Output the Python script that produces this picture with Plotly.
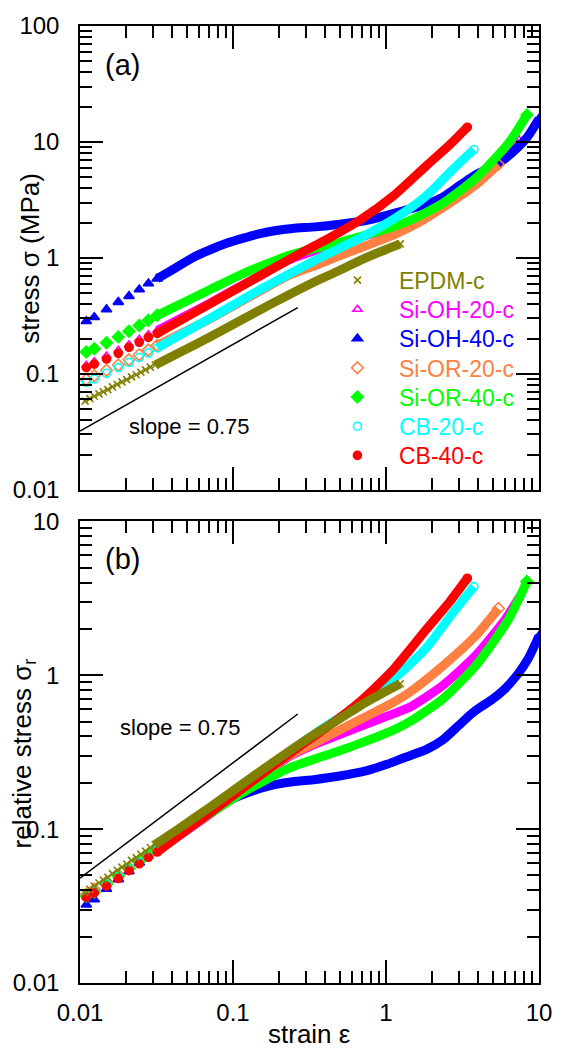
import plotly.graph_objects as go

# ---------------- data ----------------
SERIES = ["EPDM-c", "Si-OH-20-c", "Si-OH-40-c", "Si-OR-20-c", "Si-OR-40-c", "CB-20-c", "CB-40-c"]
COLORS = ["#808000", "#FF00FF", "#0000FF", "#FF8040", "#00FF00", "#00FFFF", "#FF0000"]
SYMBOLS = ["x-thin", "triangle-up-open", "triangle-up", "diamond-open", "diamond", "circle-open", "circle"]
MSIZE = [7, 8, 9, 9, 9, 8, 8]

# normalisation stress sigma0 (MPa): relative stress = stress / sigma0
SIGMA0 = [1.50, 3.25, 8.8, 2.36, 4.21, 2.28, 3.14]

# low-strain sampled points (drawn as separate markers)
LOW_STRAIN = [0.0110, 0.0124, 0.0149, 0.0178, 0.0209, 0.0244, 0.0280, 0.0320]
EPDM_LOW_STRAIN = [0.0108, 0.0116, 0.0124, 0.0133, 0.0142, 0.0152, 0.0163, 0.0175,
                   0.0188, 0.0202, 0.0217, 0.0233, 0.0250, 0.0268, 0.0288, 0.0310]

epdm_low = [0.058, 0.061, 0.064, 0.067, 0.070, 0.073, 0.077, 0.081,
            0.085, 0.089, 0.094, 0.098, 0.103, 0.108, 0.114, 0.119]
sioh20_low = [0.118, 0.127, 0.142, 0.159, 0.178, 0.198, 0.217, 0.236]
sioh40_low = [0.284, 0.307, 0.359, 0.415, 0.467, 0.533, 0.600, 0.662]
sior20_low = [0.089, 0.096, 0.107, 0.119, 0.132, 0.146, 0.160, 0.176]
sior40_low = [0.154, 0.164, 0.185, 0.208, 0.233, 0.261, 0.290, 0.319]
cb20_low = [0.0843, 0.090, 0.101, 0.113, 0.125, 0.138, 0.151, 0.167]
cb40_low = [0.113, 0.121, 0.134, 0.150, 0.169, 0.187, 0.206, 0.223]

# dense part of each curve (continuous band)
epdm_x = [0.0438, 0.0716, 0.150, 0.345, 0.487, 0.689, 1.00, 1.24]
epdm_y = [0.150, 0.210, 0.355, 0.624, 0.77, 0.96, 1.18, 1.32]

sioh20_x = [0.0716, 0.106, 0.150, 0.233, 0.345, 0.487, 1.125, 1.44, 2.35, 3.85, 6.0, 7.41]
sioh20_y = [0.41, 0.546, 0.70, 0.965, 1.16, 1.33, 1.83, 2.02, 2.79, 4.36, 7.48, 10.4]

sioh40_x = [0.0396, 0.056, 0.0716, 0.0917, 0.117, 0.150, 0.191, 0.245, 0.345, 0.487, 0.75,
            1.0, 1.30, 1.84, 2.35, 3.01, 3.67, 4.25, 4.92, 6.0, 7.29, 8.47, 10.0]
sioh40_y = [0.78, 1.02, 1.18, 1.34, 1.48, 1.62, 1.72, 1.79, 1.85, 1.94, 2.11,
            2.31, 2.55, 2.90, 3.34, 4.18, 5.00, 5.55, 6.10, 7.19, 8.98, 11.2, 15.8]

sior20_x = [0.0716, 0.106, 0.233, 0.345, 0.487, 1.125, 1.44, 2.35, 3.85, 5.43]
sior20_y = [0.30, 0.40, 0.71, 0.86, 1.03, 1.58, 1.84, 2.71, 4.25, 6.40]

sior40_x = [0.0716, 0.106, 0.150, 0.233, 0.487, 0.689, 1.125, 1.44, 2.35, 3.85, 6.30, 8.34]
sior40_y = [0.536, 0.69, 0.84, 1.05, 1.35, 1.53, 1.86, 2.11, 2.95, 4.84, 9.68, 17.1]

cb20_x = [0.0716, 0.150, 0.345, 0.689, 1.18, 1.84, 2.73, 3.76]
cb20_y = [0.303, 0.530, 0.955, 1.50, 2.25, 3.44, 5.79, 8.59]

cb40_x = [0.0716, 0.150, 0.257, 0.345, 0.421, 0.689, 1.125, 1.84, 2.60, 3.40]
cb40_y = [0.405, 0.70, 1.04, 1.28, 1.47, 2.15, 3.45, 6.25, 9.4, 13.4]

LOW_X = [EPDM_LOW_STRAIN, LOW_STRAIN, LOW_STRAIN, LOW_STRAIN, LOW_STRAIN, LOW_STRAIN, LOW_STRAIN]
LOW_Y = [epdm_low, sioh20_low, sioh40_low, sior20_low, sior40_low, cb20_low, cb40_low]
BAND_X = [epdm_x, sioh20_x, sioh40_x, sior20_x, sior40_x, cb20_x, cb40_x]
BAND_Y = [epdm_y, sioh20_y, sioh40_y, sior20_y, sior40_y, cb20_y, cb40_y]

# slope = 0.75 guide lines
SLOPE_X = [0.01, 0.265]
SLOPE_Y_A = [0.032, 0.372]
SLOPE_Y_B = [0.048, 0.56]

FONT = "Liberation Sans, Arial, sans-serif"

fig = go.Figure()


def legend_id(i):
    return "legend" if i == 0 else "legend%d" % (i + 1)


def add_series(i, xa, ya, scale, legend):
    col = COLORS[i]
    lx = LOW_X[i]
    ly = [v / scale for v in LOW_Y[i]]
    bx = [LOW_X[i][-1]] + BAND_X[i]
    by = [(v / scale) for v in ([LOW_Y[i][-1]] + BAND_Y[i])]
    sym = SYMBOLS[i]
    mline = dict(width=1.6, color=col)
    fig.add_trace(go.Scatter(
        x=bx, y=by, mode="lines", xaxis=xa, yaxis=ya,
        line=dict(color=col, width=9, shape="spline", smoothing=0.6),
        showlegend=False, hoverinfo="skip"))
    fig.add_trace(go.Scatter(
        x=lx + [bx[-1]], y=ly + [by[-1]], mode="markers", xaxis=xa, yaxis=ya,
        marker=dict(symbol=sym, size=MSIZE[i], color=col, line=mline),
        name='<span style="color:%s">%s</span>' % (col, SERIES[i]),
        legend=legend_id(i),
        showlegend=legend, hoverinfo="skip"))


# panel (a): stress
for i in range(7):
    add_series(i, "x", "y", 1.0, True)
# panel (b): relative stress (EPDM drawn last)
for i in [1, 2, 3, 4, 5, 6, 0]:
    add_series(i, "x2", "y2", SIGMA0[i], False)

fig.add_trace(go.Scatter(x=SLOPE_X, y=SLOPE_Y_A, mode="lines", xaxis="x", yaxis="y",
                         line=dict(color="black", width=1.5), showlegend=False, hoverinfo="skip"))
fig.add_trace(go.Scatter(x=SLOPE_X, y=SLOPE_Y_B, mode="lines", xaxis="x2", yaxis="y2",
                         line=dict(color="black", width=1.5), showlegend=False, hoverinfo="skip"))

minor_x = [m * 10.0 ** e for e in range(-2, 1) for m in range(2, 10)]
minor_ya = [m * 10.0 ** e for e in range(-2, 2) for m in range(2, 10)]
minor_yb = [m * 10.0 ** e for e in range(-2, 1) for m in range(2, 10)]


def ax(rng, major, minor, show, domain, anchor, standoff):
    return dict(type="log", range=rng, tickmode="array", tickvals=major,
                ticktext=[("%g" % v) for v in major], showticklabels=show,
                ticks="inside", ticklen=23, tickwidth=1.5, tickcolor="black",
                minor=dict(tickmode="array", tickvals=minor, ticks="inside", ticklen=12,
                           tickwidth=1.5, tickcolor="black", showgrid=False),
                showline=True, linewidth=1.5, linecolor="black", mirror="allticks",
                showgrid=False, zeroline=False, ticklabelstandoff=standoff,
                tickfont=dict(family=FONT, size=24, color="black"),
                domain=domain, anchor=anchor)


layout = dict(
    width=564, height=1048,
    margin=dict(l=80, r=16, t=17, b=65),
    paper_bgcolor="white", plot_bgcolor="white",
    font=dict(family=FONT, size=24, color="black"),
    xaxis=ax([-2, 1], [0.01, 0.1, 1, 10], minor_x, False, [0, 1], "y", 8),
    yaxis=ax([-2, 2], [0.01, 0.1, 1, 10, 100], minor_ya, True, [0.5155, 1], "x", 14),
    xaxis2=ax([-2, 1], [0.01, 0.1, 1, 10], minor_x, True, [0, 1], "y2", 7),
    yaxis2=ax([-2, 1], [0.01, 0.1, 1, 10], minor_yb, True, [0, 0.4824], "x2", 14),
    showlegend=True,
)
# one legend per entry so the rows sit where the reference puts them
ROW0, ROWSTEP = 273.5, 29.5
for i in range(7):
    yc = ROW0 + ROWSTEP * i
    layout[legend_id(i)] = dict(x=0.514, y=(983.0 - yc) / 966.0, xanchor="left", yanchor="middle",
                                font=dict(family=FONT, size=23), bgcolor="rgba(0,0,0,0)",
                                borderwidth=0, itemwidth=73)
fig.update_layout(**layout)

ann = [
    dict(text="(a)", x=0.092, y=0.9596, size=29),
    dict(text="(b)", x=0.092, y=0.443, size=29),
    dict(text="slope = 0.75", x=0.237, y=0.581, size=22),
    dict(text="slope = 0.75", x=0.218, y=0.267, size=22),
    dict(text="strain ε", x=0.499, y=-0.0538, size=26),
]
for a in ann:
    fig.add_annotation(text=a["text"], x=a["x"], y=a["y"], xref="paper", yref="paper",
                       xanchor="center", yanchor="middle", showarrow=False,
                       font=dict(family=FONT, size=a["size"], color="black"))
fig.add_annotation(text="stress σ (MPa)", x=-0.109, y=0.7578, xref="paper", yref="paper",
                   textangle=-90, xanchor="center", yanchor="middle", showarrow=False,
                   font=dict(family=FONT, size=26, color="black"))
fig.add_annotation(text="relative stress σ<sub>r</sub>", x=-0.124, y=0.240, xref="paper", yref="paper",
                   textangle=-90, xanchor="center", yanchor="middle", showarrow=False,
                   font=dict(family=FONT, size=26, color="black"))

fig.write_html("out.html", config={"displayModeBar": False})
